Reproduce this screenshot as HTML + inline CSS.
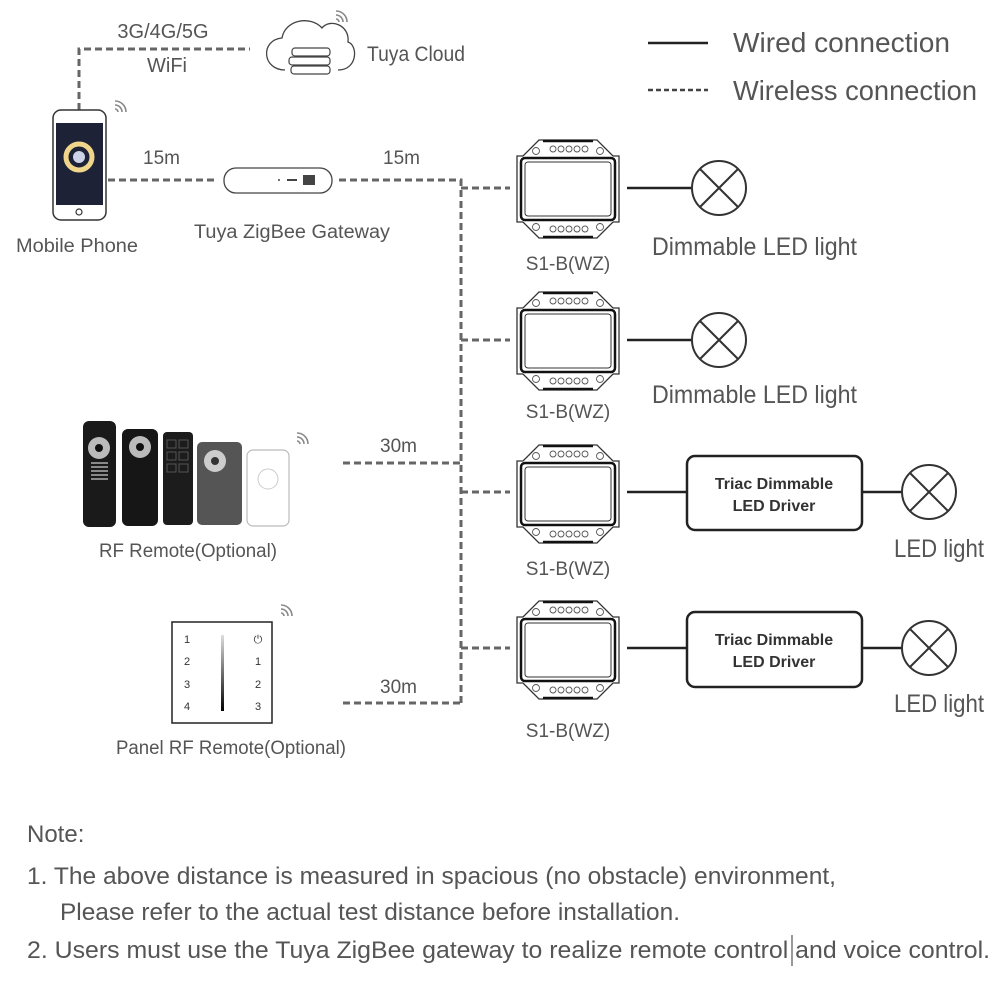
<!DOCTYPE html>
<html><head><meta charset="utf-8"><style>
html,body{margin:0;padding:0;background:#fff;}
svg{display:block;font-family:"Liberation Sans",sans-serif;}
</style></head><body>
<svg width="1000" height="1000" viewBox="0 0 1000 1000" xmlns="http://www.w3.org/2000/svg">
<defs>
<g id="mod">
  <path d="M24,2 L82,2 L98,18 L104,18 L104,84 L98,84 L82,100 L24,100 L8,84 L2,84 L2,18 L8,18 Z" fill="#fff" stroke="#333" stroke-width="1.3"/>
  <rect x="6" y="20" width="94" height="62" rx="4" fill="#fff" stroke="#111" stroke-width="2.5"/>
  <rect x="10" y="24" width="86" height="54" rx="3" fill="none" stroke="#333" stroke-width="1"/>
  <line x1="28" y1="3" x2="78" y2="3" stroke="#111" stroke-width="2.5"/>
  <line x1="28" y1="99" x2="78" y2="99" stroke="#111" stroke-width="2.5"/>
  <g fill="none" stroke="#555" stroke-width="0.9">
    <circle cx="21" cy="13" r="3.5"/><circle cx="85" cy="13" r="3.5"/>
    <circle cx="21" cy="89" r="3.5"/><circle cx="85" cy="89" r="3.5"/>
    <circle cx="38" cy="11" r="3"/><circle cx="46" cy="11" r="3"/><circle cx="54" cy="11" r="3"/><circle cx="62" cy="11" r="3"/><circle cx="70" cy="11" r="3"/>
    <circle cx="38" cy="91" r="3"/><circle cx="46" cy="91" r="3"/><circle cx="54" cy="91" r="3"/><circle cx="62" cy="91" r="3"/><circle cx="70" cy="91" r="3"/>
  </g>
</g>
<g id="lamp">
  <circle cx="0" cy="0" r="27" fill="#fff" stroke="#333" stroke-width="2"/>
  <line x1="-19" y1="-19" x2="19" y2="19" stroke="#333" stroke-width="2"/>
  <line x1="19" y1="-19" x2="-19" y2="19" stroke="#333" stroke-width="2"/>
</g>
<g id="wave" fill="none" stroke="#888" stroke-width="1.6">
  <path d="M0,13 A3,3 0 0 1 3,16"/><path d="M0,9 A7,7 0 0 1 7,16"/><path d="M0,5 A11,11 0 0 1 11,16"/>
</g>
</defs>

<!-- legend -->
<line x1="648" y1="43" x2="708" y2="43" stroke="#222" stroke-width="2.5"/>
<line x1="648" y1="90" x2="708" y2="90" stroke="#444" stroke-width="2.5" stroke-dasharray="5,3"/>
<text x="733" y="52" font-size="28" fill="#555" textLength="217" lengthAdjust="spacingAndGlyphs">Wired connection</text>
<text x="733" y="100" font-size="28" fill="#555" textLength="244" lengthAdjust="spacingAndGlyphs">Wireless connection</text>

<!-- dashed connections -->
<g stroke="#666" stroke-width="3" stroke-dasharray="7,4" fill="none">
  <path d="M79,110 V49 H250"/>
  <path d="M108,180 H216"/>
  <path d="M339,180 H461 V705"/>
  <path d="M461,188 H510"/>
  <path d="M461,340 H510"/>
  <path d="M343,463 H461"/>
  <path d="M461,492 H510"/>
  <path d="M461,648 H510"/>
  <path d="M343,703 H461"/>
</g>

<text x="163" y="38" font-size="20" fill="#555" text-anchor="middle">3G/4G/5G</text>
<text x="167" y="72" font-size="20" fill="#555" text-anchor="middle">WiFi</text>

<!-- cloud -->
<path d="M285,70 C262,70 260,40 282,38 C285,20 310,15 322,28 C330,18 350,25 348,42 C358,45 358,70 338,70" fill="none" stroke="#444" stroke-width="1.3"/>
<g fill="#fff" stroke="#444" stroke-width="1.2">
  <rect x="292" y="48" width="38" height="8" rx="3"/><rect x="289" y="57" width="41" height="8" rx="3"/><rect x="291" y="66" width="39" height="8" rx="3"/>
</g>
<use href="#wave" x="336" y="6"/>
<text x="367" y="61" font-size="21" fill="#555" textLength="98" lengthAdjust="spacingAndGlyphs">Tuya Cloud</text>

<!-- phone -->
<rect x="53" y="110" width="53" height="110" rx="8" fill="#fff" stroke="#333" stroke-width="1.5"/>
<rect x="56" y="123" width="47" height="82" fill="#1d2236"/>
<circle cx="79" cy="157" r="13" fill="none" stroke="#f0d68a" stroke-width="5"/>
<circle cx="79" cy="157" r="6" fill="#cdd3e6"/>
<circle cx="79" cy="212" r="3" fill="none" stroke="#333" stroke-width="1.2"/>
<use href="#wave" x="115" y="96"/>
<text x="16" y="252" font-size="19" fill="#555" textLength="122" lengthAdjust="spacingAndGlyphs">Mobile Phone</text>

<text x="143" y="164" font-size="19" fill="#555">15m</text>
<text x="383" y="164" font-size="19" fill="#555">15m</text>

<!-- gateway -->
<rect x="224" y="168" width="108" height="25" rx="12" fill="#fff" stroke="#444" stroke-width="1.3"/>
<rect x="303" y="175" width="12" height="10" fill="#444"/>
<line x1="287" y1="180" x2="297" y2="180" stroke="#444" stroke-width="2"/>
<circle cx="279" cy="180" r="1" fill="#444"/>
<text x="292" y="238" font-size="19" fill="#555" text-anchor="middle" textLength="196" lengthAdjust="spacingAndGlyphs">Tuya ZigBee Gateway</text>

<!-- modules -->
<use href="#mod" x="515" y="138"/>
<use href="#mod" x="515" y="290"/>
<use href="#mod" x="515" y="443"/>
<use href="#mod" x="515" y="599"/>
<g font-size="19" fill="#555" text-anchor="middle">
<text x="568" y="270">S1-B(WZ)</text>
<text x="568" y="418">S1-B(WZ)</text>
<text x="568" y="575">S1-B(WZ)</text>
<text x="568" y="737">S1-B(WZ)</text>
</g>

<!-- wires -->
<g stroke="#222" stroke-width="2.5">
<line x1="627" y1="188" x2="691" y2="188"/>
<line x1="627" y1="340" x2="691" y2="340"/>
<line x1="627" y1="492" x2="686" y2="492"/>
<line x1="862" y1="492" x2="902" y2="492"/>
<line x1="627" y1="648" x2="686" y2="648"/>
<line x1="862" y1="648" x2="902" y2="648"/>
</g>
<use href="#lamp" x="719" y="188"/>
<use href="#lamp" x="719" y="340"/>
<use href="#lamp" x="929" y="492"/>
<use href="#lamp" x="929" y="648"/>
<text x="652" y="255" font-size="25" fill="#555" textLength="205" lengthAdjust="spacingAndGlyphs">Dimmable LED light</text>
<text x="652" y="403" font-size="25" fill="#555" textLength="205" lengthAdjust="spacingAndGlyphs">Dimmable LED light</text>
<text x="894" y="557" font-size="25" fill="#555" textLength="90" lengthAdjust="spacingAndGlyphs">LED light</text>
<text x="894" y="712" font-size="25" fill="#555" textLength="90" lengthAdjust="spacingAndGlyphs">LED light</text>

<!-- drivers -->
<rect x="687" y="456" width="175" height="74" rx="8" fill="#fff" stroke="#222" stroke-width="2.5"/>
<rect x="687" y="612" width="175" height="75" rx="8" fill="#fff" stroke="#222" stroke-width="2.5"/>
<g font-size="16" font-weight="bold" fill="#333" text-anchor="middle">
<text x="774" y="489">Triac Dimmable</text><text x="774" y="511">LED Driver</text>
<text x="774" y="645">Triac Dimmable</text><text x="774" y="667">LED Driver</text>
</g>

<!-- RF remotes -->
<rect x="83" y="421" width="33" height="106" rx="6" fill="#1a1a1a"/>
<circle cx="99" cy="448" r="11" fill="#bbb"/><circle cx="99" cy="448" r="4" fill="#111"/>
<g stroke="#ccc" stroke-width="1.2"><line x1="91" y1="463" x2="108" y2="463"/><line x1="91" y1="467" x2="108" y2="467"/><line x1="91" y1="471" x2="108" y2="471"/><line x1="91" y1="475" x2="108" y2="475"/><line x1="91" y1="479" x2="108" y2="479"/></g>
<rect x="122" y="429" width="36" height="97" rx="6" fill="#161616"/>
<circle cx="140" cy="447" r="11" fill="#bbb"/><circle cx="140" cy="447" r="4" fill="#111"/>
<rect x="163" y="432" width="30" height="93" rx="4" fill="#1c1c1c"/>
<g fill="none" stroke="#555"><rect x="167" y="440" width="9" height="8"/><rect x="179" y="440" width="9" height="8"/><rect x="167" y="452" width="9" height="8"/><rect x="179" y="452" width="9" height="8"/><rect x="167" y="464" width="9" height="8"/><rect x="179" y="464" width="9" height="8"/></g>
<rect x="197" y="442" width="45" height="83" rx="5" fill="#555"/>
<circle cx="215" cy="461" r="11" fill="#ccc"/><circle cx="215" cy="461" r="4" fill="#333"/>
<rect x="247" y="450" width="42" height="76" rx="6" fill="#fff" stroke="#bbb" stroke-width="1.2"/>
<circle cx="268" cy="479" r="10" fill="none" stroke="#ccc"/>
<use href="#wave" x="297" y="428"/>
<text x="188" y="557" font-size="19" fill="#555" text-anchor="middle" textLength="178" lengthAdjust="spacingAndGlyphs">RF Remote(Optional)</text>
<text x="380" y="452" font-size="19" fill="#555">30m</text>

<!-- panel -->
<rect x="172" y="622" width="100" height="101" fill="#fff" stroke="#222" stroke-width="1.5"/>
<defs><linearGradient id="g" x1="0" y1="0" x2="0" y2="1"><stop offset="0" stop-color="#ddd"/><stop offset="1" stop-color="#000"/></linearGradient></defs>
<rect x="221" y="635" width="3" height="76" fill="url(#g)"/>
<g font-size="11" fill="#333" text-anchor="middle">
<text x="187" y="643">1</text><text x="187" y="665">2</text><text x="187" y="688">3</text><text x="187" y="710">4</text>
<text x="258" y="643">⏻</text><text x="258" y="665">1</text><text x="258" y="688">2</text><text x="258" y="710">3</text>
</g>
<use href="#wave" x="281" y="600"/>
<text x="231" y="754" font-size="19" fill="#555" text-anchor="middle" textLength="230" lengthAdjust="spacingAndGlyphs">Panel RF Remote(Optional)</text>
<text x="380" y="693" font-size="19" fill="#555">30m</text>

<!-- notes -->
<g font-size="24" fill="#555">
<text x="27" y="842">Note:</text>
<text x="27" y="884" textLength="809" lengthAdjust="spacingAndGlyphs">1. The above distance is measured in spacious (no obstacle) environment,</text>
<text x="60" y="920" textLength="620" lengthAdjust="spacingAndGlyphs">Please refer to the actual test distance before installation.</text>
<text x="27" y="958" textLength="963" lengthAdjust="spacingAndGlyphs">2. Users must use the Tuya ZigBee gateway to realize remote control and voice control.</text>
</g>
<line x1="792" y1="935" x2="792" y2="966" stroke="#333" stroke-width="1"/>
</svg>
</body></html>
